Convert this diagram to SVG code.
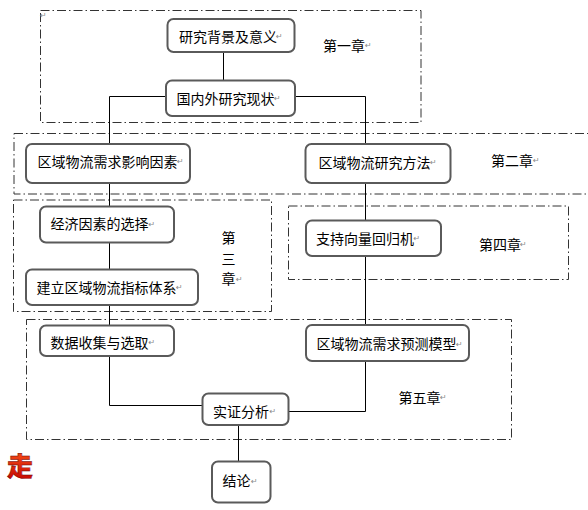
<svg xmlns="http://www.w3.org/2000/svg" width="588" height="510" viewBox="0 0 588 510">
<style>
.chap{fill:none;stroke:#333;stroke-width:1;stroke-dasharray:9,3,1.5,3}
.node rect{fill:#fff;stroke:#5a5a5a;stroke-width:2}
.t{font-family:"Noto Sans CJK SC","Noto Sans",sans-serif;font-size:14px;fill:#000;dominant-baseline:central}
.m{font-family:"DejaVu Sans",sans-serif;font-size:8px;fill:#888}
.conn line,.conn polyline{fill:none;stroke:#000;stroke-width:1}
</style>
<defs>
<linearGradient id="red" x1="0" y1="0" x2="0" y2="1">
<stop offset="0" stop-color="#ff5a1a"/>
<stop offset="1" stop-color="#c00000"/>
</linearGradient>
</defs>
<rect width="588" height="510" fill="#fff"/>
<g id="chapters">
<rect class="chap" x="40.5" y="10.5" width="380.5" height="112"/>
<rect class="chap" x="14" y="133.5" width="600" height="60.5"/>
<rect class="chap" x="13.5" y="200" width="258" height="111.5"/>
<rect class="chap" x="288.5" y="206" width="280" height="73.5"/>
<rect class="chap" x="26.5" y="319.5" width="485" height="120"/>
<text class="m" x="40" y="18">↵</text>
</g>
<g class="conn" id="connectors">
<line x1="223.5" y1="52" x2="223.5" y2="80.5"/>
<polyline points="166,96.5 109.5,96.5 109.5,144"/>
<polyline points="295,96.5 365.5,96.5 365.5,144"/>
<line x1="109.5" y1="183" x2="109.5" y2="206.5"/>
<line x1="109.5" y1="242.5" x2="109.5" y2="269.5"/>
<line x1="109.5" y1="305" x2="109.5" y2="325.5"/>
<line x1="365.5" y1="183" x2="365.5" y2="220.5"/>
<line x1="365.5" y1="256" x2="365.5" y2="325"/>
<polyline points="109.5,356 109.5,405.5 202.5,405.5"/>
<polyline points="365.5,361 365.5,411.5 288.5,411.5"/>
<line x1="238.5" y1="425" x2="238.5" y2="461.5"/>
</g>
<g id="n1" class="node"><rect x="167.5" y="19" width="127" height="33" rx="6"/><text class="t" x="179" y="35.5">研究背景及意义</text><text class="m" x="276" y="39">↵</text></g>
<g id="n2" class="node"><rect x="166" y="80.5" width="129" height="35.5" rx="6"/><text class="t" x="176.5" y="97.5">国内外研究现状</text><text class="m" x="274" y="101">↵</text></g>
<g id="n3" class="node"><rect x="26" y="144" width="164" height="39" rx="6"/><text class="t" x="37.5" y="160.5">区域物流需求影响因素</text><text class="m" x="177" y="164">↵</text></g>
<g id="n4" class="node"><rect x="305.5" y="144" width="145" height="39" rx="6"/><text class="t" x="318.5" y="161.5">区域物流研究方法</text><text class="m" x="430" y="165">↵</text></g>
<g id="n5" class="node"><rect x="40" y="206.5" width="134" height="36" rx="6"/><text class="t" x="50.5" y="223">经济因素的选择</text><text class="m" x="148.5" y="226.5">↵</text></g>
<g id="n6" class="node"><rect x="26" y="269.5" width="172" height="35.5" rx="6"/><text class="t" x="36.5" y="286.5">建立区域物流指标体系</text><text class="m" x="176" y="290">↵</text></g>
<g id="n7" class="node"><rect x="306" y="220.5" width="135" height="35.5" rx="6"/><text class="t" x="316" y="237.5">支持向量回归机</text><text class="m" x="413.5" y="241">↵</text></g>
<g id="n8" class="node"><rect x="40" y="325.5" width="134" height="30.5" rx="6"/><text class="t" x="50.5" y="341.5">数据收集与选取</text><text class="m" x="148.5" y="345">↵</text></g>
<g id="n9" class="node"><rect x="306" y="325" width="163" height="36" rx="6"/><text class="t" x="316.5" y="343">区域物流需求预测模型</text><text class="m" x="456" y="346.5">↵</text></g>
<g id="n10" class="node"><rect x="202.5" y="393.5" width="86" height="31.5" rx="6"/><text class="t" x="213" y="410.5">实证分析</text><text class="m" x="269.5" y="414">↵</text></g>
<g id="n11" class="node"><rect x="212" y="461.5" width="58.5" height="41" rx="6"/><text class="t" x="222.5" y="480">结论</text><text class="m" x="251" y="483.5">↵</text></g>
<g id="labels">
<text class="t" x="323" y="44.5">第一章</text><text class="m" x="365" y="48">↵</text>
<text class="t" x="491" y="159.5">第二章</text><text class="m" x="533" y="163">↵</text>
<text class="t" x="221.5" y="236.5">第</text>
<text class="t" x="221.5" y="257.5">三</text>
<text class="t" x="221.5" y="278">章</text><text class="m" x="236" y="281.5">↵</text>
<text class="t" x="479" y="243.5">第四章</text><text class="m" x="520" y="247">↵</text>
<text class="t" x="398.5" y="396.5">第五章</text><text class="m" x="440" y="400">↵</text>
</g>
<text x="7" y="464.5" style="font-family:'Noto Sans CJK SC',sans-serif;font-size:26px;font-weight:900;dominant-baseline:central" fill="url(#red)" stroke="#600" stroke-width="0.4">走</text>
</svg>
